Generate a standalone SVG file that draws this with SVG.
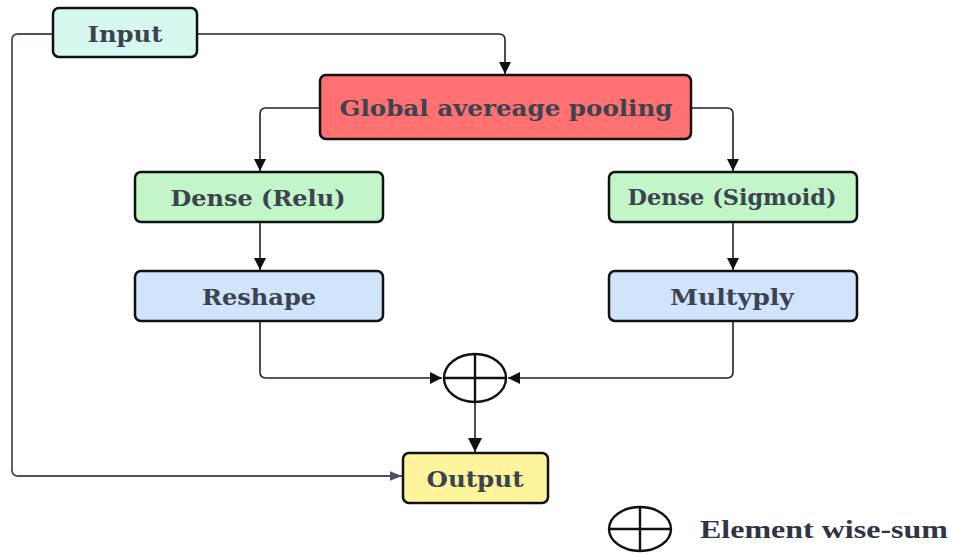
<svg xmlns="http://www.w3.org/2000/svg" width="953" height="555" viewBox="0 0 953 555">
  <defs>
    <marker id="arrBig" viewBox="0 0 10 10" refX="10" refY="5" markerWidth="12" markerHeight="12" markerUnits="userSpaceOnUse" orient="auto">
      <path d="M0,0 L10,5 L0,10 z" fill="#111"/>
    </marker>
    <marker id="arrHeavy" viewBox="0 0 10 10" refX="10" refY="5" markerWidth="14" markerHeight="14" markerUnits="userSpaceOnUse" orient="auto">
      <path d="M0,0 L10,5 L0,10 z" fill="#111"/>
    </marker>
    <marker id="arrGrey" viewBox="0 0 10 10" refX="10" refY="5" markerWidth="12" markerHeight="12" markerUnits="userSpaceOnUse" orient="auto">
      <path d="M0,1 L10,5 L0,9 z" fill="#4a5260"/>
    </marker>
  </defs>
  <style>
    .box { stroke: #111; stroke-width: 2.5; }
    .lbl { font-family: "DejaVu Serif", "Liberation Serif", serif; font-weight: bold; font-size: 23px; fill: #3b4350; text-anchor: middle; }
    .wire { fill: none; stroke: #222; stroke-width: 1.6; }
    .sum { fill: none; stroke: #111; stroke-width: 2.4; }
  </style>
  <rect width="953" height="555" fill="#ffffff"/>

  <g id="connectors">
    <path class="wire" d="M197,34 H499 Q505,34 505,40 V74" marker-end="url(#arrBig)"/>
    <path d="M53,34 H18 Q12,34 12,40 V470 Q12,476 18,476 H402" fill="none" stroke="#4a5260" stroke-width="1.8" marker-end="url(#arrGrey)"/>
    <path class="wire" d="M320,108 H266 Q260,108 260,114 V171" marker-end="url(#arrBig)"/>
    <path class="wire" d="M691,108 H727 Q733,108 733,114 V171" marker-end="url(#arrBig)"/>
    <path class="wire" d="M260,222 V270" marker-end="url(#arrBig)"/>
    <path class="wire" d="M733,222 V270" marker-end="url(#arrBig)"/>
    <path class="wire" d="M260,321 V372 Q260,378 266,378 H442" marker-end="url(#arrBig)"/>
    <path class="wire" d="M733,321 V372 Q733,378 727,378 H508" marker-end="url(#arrBig)"/>
    <path class="wire" d="M475,403 V452" stroke-width="3" marker-end="url(#arrHeavy)"/>
  </g>

  <g id="input">
    <rect class="box" x="53" y="8" width="144" height="49" rx="6" fill="#d6f8f1"/>
    <text class="lbl" x="125" y="42" textLength="75" lengthAdjust="spacingAndGlyphs">Input</text>
  </g>

  <g id="gap">
    <rect class="box" x="320" y="75" width="371" height="64" rx="6" fill="#ff7070"/>
    <text class="lbl" x="506" y="116" textLength="333" lengthAdjust="spacingAndGlyphs">Global avereage pooling</text>
  </g>

  <g id="dense-relu">
    <rect class="box" x="135" y="172" width="248" height="50" rx="6" fill="#c2f5c7"/>
    <text class="lbl" x="258" y="206" textLength="175" lengthAdjust="spacingAndGlyphs">Dense (Relu)</text>
  </g>

  <g id="reshape">
    <rect class="box" x="135" y="271" width="248" height="50" rx="6" fill="#d0e4fb"/>
    <text class="lbl" x="259" y="305" textLength="114" lengthAdjust="spacingAndGlyphs">Reshape</text>
  </g>

  <g id="dense-sigmoid">
    <rect class="box" x="609" y="172" width="248" height="50" rx="6" fill="#c2f5c7"/>
    <text class="lbl" x="732" y="205" textLength="209" lengthAdjust="spacingAndGlyphs">Dense (Sigmoid)</text>
  </g>

  <g id="multiply">
    <rect class="box" x="609" y="271" width="248" height="50" rx="6" fill="#d0e4fb"/>
    <text class="lbl" x="732" y="305" textLength="124" lengthAdjust="spacingAndGlyphs">Multyply</text>
  </g>

  <g id="sum">
    <ellipse class="sum" cx="475" cy="378" rx="31" ry="24" fill="#ffffff"/>
    <path class="sum" d="M444,378 H506 M475,354 V402"/>
  </g>

  <g id="output">
    <rect class="box" x="403" y="453" width="145" height="50" rx="6" fill="#fdf49b"/>
    <text class="lbl" x="475" y="487" textLength="97" lengthAdjust="spacingAndGlyphs">Output</text>
  </g>

  <g id="legend">
    <ellipse class="sum" cx="640" cy="529" rx="31" ry="22" fill="#ffffff"/>
    <path class="sum" d="M609,529 H671 M640,507 V551"/>
    <text x="700" y="538" font-family="'Liberation Serif', serif" font-weight="bold" font-size="26" fill="#2f3642" textLength="248" lengthAdjust="spacingAndGlyphs">Element wise-sum</text>
  </g>
</svg>
